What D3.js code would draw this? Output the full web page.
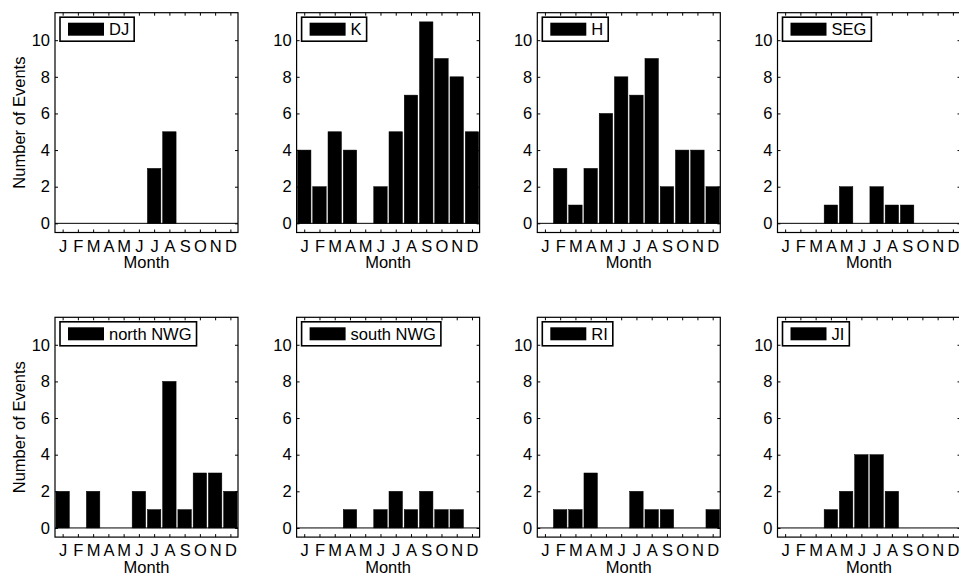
<!DOCTYPE html>
<html>
<head>
<meta charset="utf-8">
<script src="https://cdn.jsdelivr.net/npm/d3@7"></script>
<style>
  html, body { margin: 0; padding: 0; background: #fff; }
  svg { display: block; }
  text { font-family: "Liberation Sans", Arial, Helvetica, sans-serif; fill: #000; }
</style>
</head>
<body>
<svg id="chart" width="959" height="576"></svg>
<script>
// ---- data ----
const months = ["J","F","M","A","M","J","J","A","S","O","N","D"];
const yTicks = [0, 2, 4, 6, 8, 10];
const regions = ["DJ", "K", "H", "SEG", "north NWG", "south NWG", "RI", "JI"];
const DJ       = [0,0,0,0,0,0,3,5,0,0,0,0];
const K        = [4,2,5,4,0,2,5,7,11,9,8,5];
const H        = [0,3,1,3,6,8,7,9,2,4,4,2];
const SEG      = [0,0,0,1,2,0,2,1,1,0,0,0];
const northNWG = [2,0,2,0,0,2,1,8,1,3,3,2];
const southNWG = [0,0,0,1,0,1,2,1,2,1,1,0];
const RI       = [0,1,1,3,0,0,2,1,1,0,0,1];
const JI       = [0,0,0,1,2,4,4,2,0,0,0,0];
const seriesValues = [DJ, K, H, SEG, northNWG, southNWG, RI, JI];
const xLabel = "Month";
const yLabel = "Number of Events";

// ---- layout ----
const svg = d3.select("#chart");
const colLefts = [55, 296.6, 537.3, 777.5];
const rowTops = [12.7, 317.3];
const W = 183, Hh = 219.8;
const barFrac = 0.88;
const FS = 16.5;

const x = d3.scaleLinear().domain([0.5, 12.5]).range([0, W]);
const y = d3.scaleLinear().domain([-0.5, 11.5]).range([Hh, 0]);
const monthIdx = d3.range(1, 13);

regions.forEach((name, k) => {
  const r = Math.floor(k / 4), c = k % 4;
  const vals = seriesValues[k];
  const g = svg.append("g").attr("transform", `translate(${colLefts[c]},${rowTops[r]})`);

  // bars
  g.selectAll("rect.bar").data(vals).enter().append("rect")
    .attr("class", "bar")
    .attr("x", (d, i) => x(i + 1 - barFrac / 2))
    .attr("width", x(1 + barFrac) - x(1))
    .attr("y", d => y(Math.max(d, 0)))
    .attr("height", d => Math.abs(y(0) - y(d)))
    .attr("fill", "#000")
    .attr("stroke", "#000")
    .attr("stroke-width", 0.5);

  // baseline
  g.append("line")
    .attr("x1", 0).attr("x2", W)
    .attr("y1", y(0)).attr("y2", y(0))
    .attr("stroke", "#000").attr("stroke-width", 1);

  // axes
  const bottom = g.append("g").attr("transform", `translate(0,${Hh})`)
    .call(d3.axisBottom(x).tickValues(monthIdx).tickFormat(d => months[d - 1]).tickSize(-3).tickPadding(7.5));
  const top = g.append("g")
    .call(d3.axisTop(x).tickValues(monthIdx).tickFormat("").tickSize(-3));
  const left = g.append("g")
    .call(d3.axisLeft(y).tickValues(yTicks).tickSize(-3).tickPadding(5));
  const right = g.append("g").attr("transform", `translate(${W},0)`)
    .call(d3.axisRight(y).tickValues(yTicks).tickFormat("").tickSize(-3));
  [bottom, top, left, right].forEach(a => {
    a.select(".domain").remove();
    a.selectAll(".tick line").attr("stroke", "#000").attr("stroke-width", 1);
    a.selectAll("text").attr("font-size", FS).attr("font-family", '"Liberation Sans", Arial, Helvetica, sans-serif').attr("fill", "#000");
  });

  // frame
  g.append("rect").attr("x", 0).attr("y", 0).attr("width", W).attr("height", Hh)
    .attr("fill", "none").attr("stroke", "#000").attr("stroke-width", 1.2);

  // x label
  g.append("text").attr("x", W / 2).attr("y", Hh + 36)
    .attr("text-anchor", "middle").attr("font-size", FS).text(xLabel);

  // y label
  if (c === 0) {
    g.append("text")
      .attr("transform", `translate(-30,${Hh / 2}) rotate(-90)`)
      .attr("text-anchor", "middle").attr("font-size", FS).text(yLabel);
  }

  // legend
  const lg = g.append("g").attr("transform", "translate(5,4.5)");
  const box = lg.append("rect").attr("x", 0).attr("y", 0).attr("height", 24)
    .attr("fill", "#fff").attr("stroke", "#000").attr("stroke-width", 1.6);
  lg.append("rect").attr("x", 8).attr("y", 5.5).attr("width", 36).attr("height", 13).attr("fill", "#000");
  const t = lg.append("text").attr("x", 49).attr("y", 17.8).attr("font-size", FS).text(name);
  const tw = t.node().getComputedTextLength();
  box.attr("width", 49 + tw + 5);
});
</script>
</body>
</html>
